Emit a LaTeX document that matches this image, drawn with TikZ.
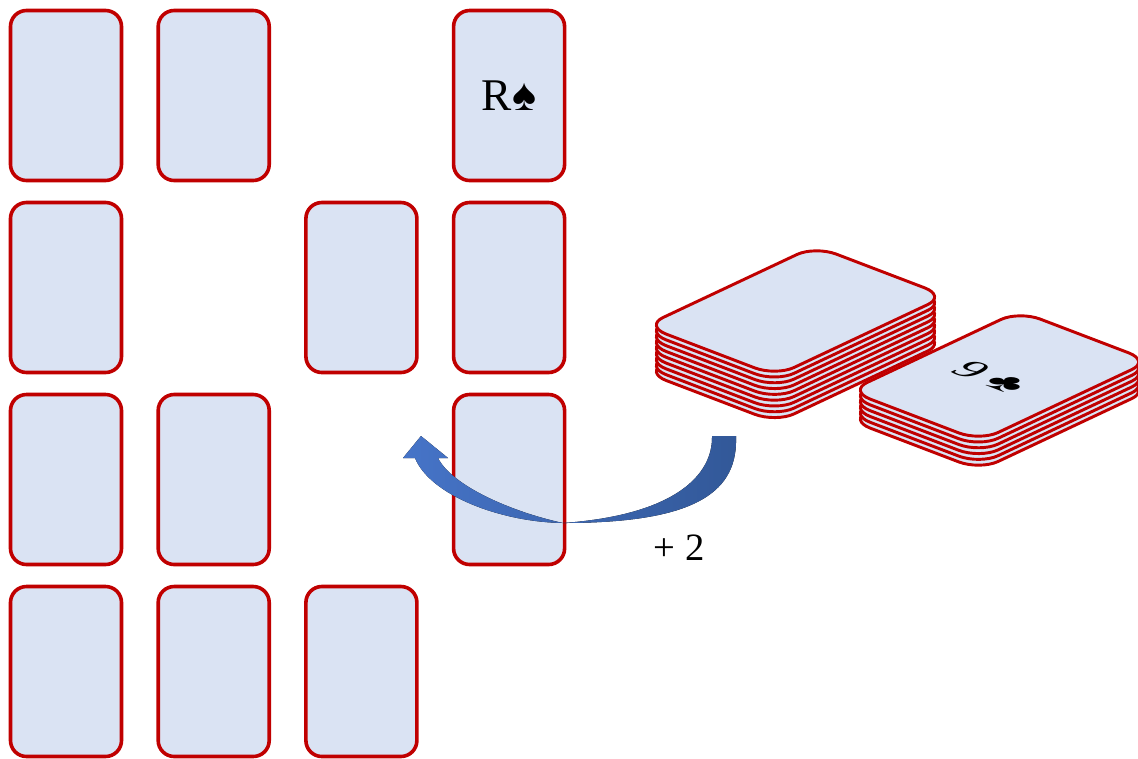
\documentclass[tikz,border=0pt]{standalone}
\usepackage{fontspec}
\setmainfont{Liberation Serif}
\definecolor{cardred}{HTML}{C00000}
\definecolor{cardfill}{HTML}{DAE3F3}
\definecolor{arrowlight}{RGB}{70,116,200}
\definecolor{arrowdark}{RGB}{50,88,152}
% outline of one card lying flat, in card units (170 x 111, corner radius 18)
\newcommand{\flatcardpath}{%
  (18,0) -- (152,0) .. controls (162,0) and (170,8) .. (170,18)
  -- (170,93) .. controls (170,103) and (162,111) .. (152,111)
  -- (18,111) .. controls (8,111) and (0,103) .. (0,93)
  -- (0,18) .. controls (0,8) and (8,0) .. (18,0) -- cycle}
\begin{document}
\begin{tikzpicture}[x=0.75pt,y=-0.75pt,
  card/.style={draw=cardred, fill=cardfill, line width=2.7pt, rounded corners=12pt,
    minimum width=83.25pt, minimum height=127.5pt, inner sep=0pt},
  layer/.style={draw=cardred, fill=cardfill, line width=2.2pt, line join=round},
  bigtext/.style={font=\fontsize{34}{34}\selectfont, text=black},
  flat/.style={x={(0.75pt,0.353pt)}, y={(0.885pt,-0.3378pt)}}
]
\useasboundingbox (0,0) rectangle (1138,758);
\clip (0,0) rectangle (1138,758);

% grid of face-down cards
\foreach \r/\c in {0/0,0/1,1/0,1/2,1/3,2/0,2/1,2/3,3/0,3/1,3/2}
  \node[card] (card-\r-\c) at ({66+147.7*\c},{95.5+192*\r}) {};
\node[card, bigtext] (card-0-3) at ({66+147.7*3},95.5) {R♠};

% draw pile (9 cards)
\foreach \i in {8,7,...,0}
  \path[layer, shift={(645,326+5.8*\i)}, flat] \flatcardpath;

% discard pile (6 cards)
\foreach \i in {5,4,...,0}
  \path[layer, shift={(849,391+5.8*\i)}, flat] \flatcardpath;
\begin{scope}[shift={(991,377)}, cm={1.18,-0.45,1,0.4706,(0,0)}]
  \node[transform shape, font=\fontsize{28}{28}\selectfont] (nine) at (0,0) {9\kern6pt♣};
\end{scope}

% curved arrow from the pile back to the grid
\fill[left color=arrowlight, right color=arrowdark]
  (712,436) -- (736,436)
  .. controls (738,490) and (700,523) .. (563,523)
  .. controls (500,522) and (430,495) .. (415,458)
  -- (403,458) -- (421,436) -- (448,458) -- (438,458)
  .. controls (452,486) and (512,512) .. (563,523)
  .. controls (675,515) and (713,475) .. (712,436) -- cycle;

\node[font=\fontsize{29}{29}\selectfont] (plus) at (679,548) {+ 2};
\end{tikzpicture}
\end{document}
